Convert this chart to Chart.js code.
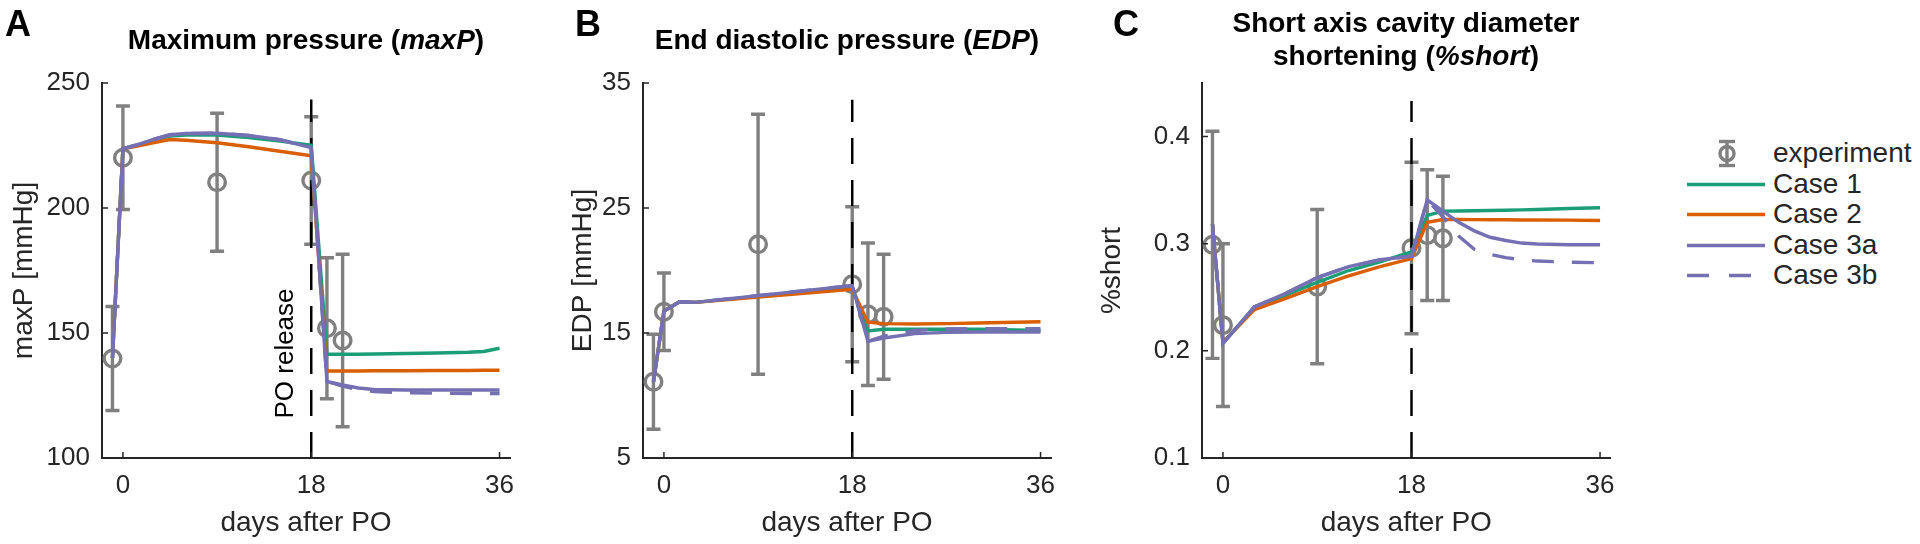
<!DOCTYPE html>
<html>
<head>
<meta charset="utf-8">
<script src="https://cdn.jsdelivr.net/npm/chart.js@4.4.1/dist/chart.umd.min.js"></script>
<style>
  html, body { margin: 0; padding: 0; background: #fff; }
  #page { position: relative; width: 1920px; height: 544px; overflow: hidden;
          font-family: "Liberation Sans", Arial, Helvetica, sans-serif; }
  canvas { position: absolute; top: 0; }
  .letter { position: absolute; top: 6px; font-weight: bold; font-size: 36px; line-height: 36px; color: #000; }
  .title { position: absolute; width: 600px; font-weight: bold; font-size: 28px; line-height: 33px;
           color: #000; text-align: center; white-space: nowrap; }
  .legend { position: absolute; left: 1687px; top: 138px; color: #262626; font-size: 28px; }
  .legend .row { position: relative; height: 30.6px; line-height: 30.6px; white-space: nowrap; }
  .legend svg { position: absolute; left: 0; top: 0; }
  .legend span { position: absolute; left: 86px; top: 0; }
</style>
</head>
<body>
<div id="page">
  <canvas id="chartA" width="540" height="544" style="left:0px"></canvas>
  <canvas id="chartB" width="540" height="544" style="left:541px"></canvas>
  <canvas id="chartC" width="540" height="544" style="left:1090px"></canvas>

  <div class="letter" style="left:5px">A</div>
  <div class="letter" style="left:575px">B</div>
  <div class="letter" style="left:1113px">C</div>

  <div class="title" style="left:6px; top:23px">Maximum pressure (<i>maxP</i>)</div>
  <div class="title" style="left:547px; top:23px">End diastolic pressure (<i>EDP</i>)</div>
  <div class="title" style="left:1106px; top:6px">Short axis cavity diameter<br>shortening (<i>%short</i>)</div>

  <div class="legend" id="legend"></div>
</div>

<script>
// experiment (mean +- error bar)
const expDays = [-1, 0, 9, 18, 19.5, 21];

const expMaxP = [139.8, 220.1, 210.3, 211.0, 151.9, 147.0];
const expMaxPErr = [20.8, 20.7, 27.6, 25.5, 28.2, 34.5];

const expEDP = [11.1, 16.7, 22.1, 18.9, 16.5, 16.3];
const expEDPErr = [3.8, 3.1, 10.4, 6.2, 5.7, 5.0];

const expShort = [0.299, 0.224, 0.260, 0.296, 0.308, 0.305];
const expShortErr = [0.106, 0.076, 0.072, 0.080, 0.061, 0.058];

// model output, panel A (maxP)
const daysA = [-1, 0, 1.5, 3, 4.5, 6, 9, 12, 15, 18, 19.5, 21, 22.5, 24, 27, 30, 33, 34.5, 36];
const maxPCase1 = [140, 223.7, 225.3, 227.2, 228.8, 229.2, 229.2, 228.2, 226.8, 225.1, 141.5, 141.5, 141.5, 141.6, 141.8, 142.0, 142.3, 142.6, 143.9];
const maxPCase2 = [140, 223.7, 224.9, 226.2, 227.4, 227.1, 226.1, 224.5, 222.7, 220.9, 134.8, 134.8, 134.8, 134.9, 134.9, 135.0, 135.0, 135.1, 135.1];
const maxPCase3a = [140, 223.7, 225.5, 227.5, 229.3, 229.8, 229.9, 229.0, 227.3, 224.2, 130.6, 129.2, 128.0, 127.4, 127.2, 127.2, 127.2, 127.2, 127.2];
const maxPCase3b = [140, 223.7, 225.5, 227.5, 229.3, 229.8, 229.9, 229.0, 227.3, 224.2, 130.6, 128.8, 127.3, 126.6, 126.1, 125.9, 125.8, 125.8, 125.8];

// model output, panel B (EDP)
const daysB = [-1, 0, 1.5, 3, 18, 19.5, 21, 24, 27, 30, 36];
const edpCase1 = [11.1, 16.75, 17.5, 17.45, 18.7, 15.17, 15.3, 15.3, 15.3, 15.3, 15.2];
const edpCase2 = [11.1, 16.75, 17.5, 17.45, 18.5, 15.86, 15.75, 15.72, 15.75, 15.8, 15.9];
const edpCase3a = [11.1, 16.75, 17.5, 17.45, 18.8, 14.33, 14.6, 14.95, 15.05, 15.08, 15.08];
const edpCase3b = [11.1, 16.75, 17.5, 17.45, 18.8, 14.33, 14.75, 15.2, 15.32, 15.35, 15.35];

// model output, panel C (%short)
const daysC = [-1, 0, 3, 6, 9, 12, 15, 18, 19.5, 21, 22.5, 24, 25.5, 27, 28.5, 30, 33, 36];
const shortCase1 = [0.318, 0.207, 0.241, 0.252, 0.264, 0.275, 0.283, 0.2925, 0.3265, 0.3304, 0.3305, 0.3307, 0.331, 0.3312, 0.3316, 0.332, 0.3328, 0.3336];
const shortCase2 = [0.318, 0.208, 0.2385, 0.249, 0.260, 0.270, 0.2786, 0.2861, 0.320, 0.3226, 0.3226, 0.3225, 0.3224, 0.3223, 0.3222, 0.3221, 0.322, 0.3217];
const shortCase3a = [0.318, 0.207, 0.241, 0.2537, 0.2683, 0.2786, 0.285, 0.2883, 0.341, 0.3304, 0.320, 0.312, 0.306, 0.303, 0.3006, 0.2997, 0.299, 0.299];
const shortCase3b = [0.318, 0.207, 0.241, 0.2537, 0.2683, 0.2786, 0.285, 0.2883, 0.341, 0.325, 0.3071, 0.2948, 0.290, 0.287, 0.2851, 0.2838, 0.2828, 0.2822];

// axes
const xTicks = [0, 18, 36];
const maxPTicks = [100, 150, 200, 250];
const edpTicks = [5, 15, 25, 35];
const shortTicks = [0.1, 0.2, 0.3, 0.4];
const releaseDay = 18;

const seriesNames = ['experiment', 'Case 1', 'Case 2', 'Case 3a', 'Case 3b'];

const GREY = '#808080';
const GREEN = '#1b9e77';
const ORANGE = '#d95f02';
const PURPLE = '#7570b3';
const AXIS = '#262626';
const FONT = '"Liberation Sans", Arial, Helvetica, sans-serif';
const DASH = [22, 18];
const LW = 3.4;

function xy(days, vals) {
    return days.map(function(d, i){ return {x: d, y: vals[i]} })
}

// error bars drawn under everything else
const errorBarPlugin = {
    id: 'errorBars',
    beforeDatasetsDraw(chart, args, opts) {
        const ctx = chart.ctx
        const x = chart.scales.x, y = chart.scales.y
        ctx.save()
        ctx.strokeStyle = GREY
        ctx.lineWidth = LW
        for (let i = 0; i < opts.days.length; i++) {
            const px = x.getPixelForValue(opts.days[i])
            const top = y.getPixelForValue(opts.means[i] + opts.errs[i])
            const bot = y.getPixelForValue(opts.means[i] - opts.errs[i])
            ctx.beginPath()
            ctx.moveTo(px, top); ctx.lineTo(px, bot)
            ctx.moveTo(px - 7, top); ctx.lineTo(px + 7, top)
            ctx.moveTo(px - 7, bot); ctx.lineTo(px + 7, bot)
            ctx.stroke()
        }
        ctx.restore()
    }
}

// matlab style ticks pointing into the axes, plus text notes
const tickPlugin = {
    id: 'inTicks',
    afterDraw(chart, args, opts) {
        const ctx = chart.ctx
        const area = chart.chartArea
        const x = chart.scales.x, y = chart.scales.y
        ctx.save()
        ctx.strokeStyle = AXIS
        ctx.lineWidth = 1.5
        ctx.beginPath()
        y.ticks.forEach(function(t){
            const py = y.getPixelForValue(t.value)
            ctx.moveTo(area.left, py); ctx.lineTo(area.left + 6, py)
        })
        x.ticks.forEach(function(t){
            const px = x.getPixelForValue(t.value)
            ctx.moveTo(px, area.bottom); ctx.lineTo(px, area.bottom - 6)
        })
        ctx.stroke()
        if (opts.note) {
            ctx.translate(x.getPixelForValue(opts.note.x), y.getPixelForValue(opts.note.y))
            ctx.rotate(-Math.PI / 2)
            ctx.fillStyle = '#000'
            ctx.font = '26px ' + FONT
            ctx.textAlign = 'center'
            ctx.textBaseline = 'middle'
            ctx.fillText(opts.note.text, 0, 0)
        }
        ctx.restore()
    }
}

function makePanel(id, p) {
    const datasets = [
        {label: seriesNames[0], data: xy(expDays, p.exp), order: 10,
         pointRadius: 8.3, pointBorderWidth: LW, pointBorderColor: GREY,
         pointBackgroundColor: 'rgba(0,0,0,0)', showLine: false},
        {label: 'release', data: [{x: releaseDay, y: p.yMin}, {x: releaseDay, y: p.vTop}], order: 9,
         showLine: true, borderColor: '#000', borderWidth: 2.5, borderDash: [26, 16], pointRadius: 0},
        {label: seriesNames[1], data: xy(p.days, p.c1), order: 4, borderColor: GREEN},
        {label: seriesNames[2], data: xy(p.days, p.c2), order: 3, borderColor: ORANGE},
        {label: seriesNames[4], data: xy(p.days, p.c3b), order: 2, borderColor: PURPLE, borderDash: DASH},
        {label: seriesNames[3], data: xy(p.days, p.c3a), order: 1, borderColor: PURPLE}
    ]
    datasets.slice(2).forEach(function(d){
        d.showLine = true
        d.borderWidth = LW
        d.pointRadius = 0
        d.tension = 0
    })

    return new Chart(document.getElementById(id), {
        type: 'scatter',
        data: {datasets: datasets},
        plugins: [errorBarPlugin, tickPlugin],
        options: {
            responsive: false,
            animation: false,
            events: [],
            layout: {padding: {top: 83, right: p.rightPad, bottom: 0, left: 0}},
            plugins: {
                legend: {display: false},
                tooltip: {enabled: false},
                errorBars: {days: expDays, means: p.exp, errs: p.err},
                inTicks: {note: p.note || null}
            },
            scales: {
                x: {
                    type: 'linear', min: -2, max: 37,
                    afterBuildTicks: function(s){ s.ticks = xTicks.map(function(v){ return {value: v} }) },
                    afterFit: function(s){ s.height = 86 },
                    grid: {display: false, drawTicks: false},
                    border: {display: true, color: AXIS, width: 2},
                    ticks: {color: AXIS, padding: 15, font: {family: FONT, size: 26, lineHeight: 1},
                            callback: function(v){ return String(v) }},
                    title: {display: true, text: 'days after PO', color: AXIS,
                            font: {family: FONT, size: 28, lineHeight: 1}, padding: {top: 0, bottom: 7}}
                },
                y: {
                    type: 'linear', min: p.yMin, max: p.yMax,
                    afterBuildTicks: function(s){ s.ticks = p.yTicks.map(function(v){ return {value: v} }) },
                    afterFit: function(s){ s.width = p.yWidth },
                    grid: {display: false, drawTicks: false},
                    border: {display: true, color: AXIS, width: 2},
                    ticks: {color: AXIS, padding: 12, font: {family: FONT, size: 26, lineHeight: 1},
                            callback: function(v){ return String(v) }},
                    title: {display: true, text: p.yTitle, color: AXIS,
                            font: {family: FONT, size: 28, lineHeight: 1}, padding: {top: p.yTitlePad, bottom: 0}}
                }
            }
        }
    })
}

makePanel('chartA', {
    exp: expMaxP, err: expMaxPErr, days: daysA,
    c1: maxPCase1, c2: maxPCase2, c3a: maxPCase3a, c3b: maxPCase3b,
    yMin: 100, yMax: 250, yTicks: maxPTicks, vTop: 243.4,
    yTitle: 'maxP [mmHg]', yWidth: 102, rightPad: 30, yTitlePad: 10,
    note: {text: 'PO release', x: 15.6, y: 141.8}
})

makePanel('chartB', {
    exp: expEDP, err: expEDPErr, days: daysB,
    c1: edpCase1, c2: edpCase2, c3a: edpCase3a, c3b: edpCase3b,
    yMin: 5, yMax: 35, yTicks: edpTicks, vTop: 33.66,
    yTitle: 'EDP [mmHg]', yWidth: 102, rightPad: 30, yTitlePad: 28
})

makePanel('chartC', {
    exp: expShort, err: expShortErr, days: daysC,
    c1: shortCase1, c2: shortCase2, c3a: shortCase3a, c3b: shortCase3b,
    yMin: 0.1, yMax: 0.45, yTicks: shortTicks, vTop: 0.4333,
    yTitle: '%short', yWidth: 112, rightPad: 19, yTitlePad: 8
})

// legend
const legendColors = [GREY, GREEN, ORANGE, PURPLE, PURPLE]
const legendBox = document.getElementById('legend')
seriesNames.forEach(function(name, i){
    let icon
    if (i === 0) {
        icon = '<svg width="80" height="31"><g stroke="' + GREY + '" stroke-width="3.4" fill="none">' +
               '<line x1="40" y1="3.5" x2="40" y2="27.5"/><line x1="32" y1="3.5" x2="48" y2="3.5"/>' +
               '<line x1="32" y1="27.5" x2="48" y2="27.5"/><circle cx="40" cy="15.5" r="7"/></g></svg>'
    } else {
        const dash = i === 4 ? ' stroke-dasharray="22 20"' : ''
        icon = '<svg width="80" height="31"><line x1="0" y1="15.5" x2="78" y2="15.5" stroke="' +
               legendColors[i] + '" stroke-width="3.4"' + dash + '/></svg>'
    }
    const row = document.createElement('div')
    row.className = 'row'
    row.innerHTML = icon + '<span>' + name + '</span>'
    legendBox.appendChild(row)
})
</script>
</body>
</html>
